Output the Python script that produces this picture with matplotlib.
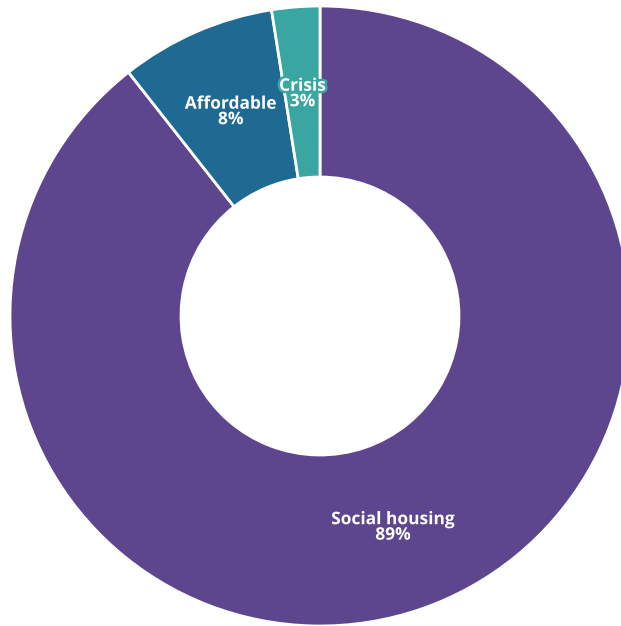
import numpy as np
import matplotlib
matplotlib.use("Agg")
import matplotlib.pyplot as plt
import matplotlib.patheffects as pe

### data ###
categories = ["Social housing", "Affordable", "Crisis"]
shares = [89.4, 8.1, 2.5]
pct_labels = ["89%", "8%", "3%"]
colours = ["#5e468f", "#1f6a93", "#3aa6a2"]

### layout (pixels) ###
W, H = 621, 626
cx, cy = 320, H - 316
outer_r = 310
inner_r = 139

fig = plt.figure(figsize=(W / 100, H / 100), dpi=100)
ax = fig.add_axes([0, 0, 1, 1])

wedges, _ = ax.pie(shares, colors=colours, startangle=90, counterclock=False,
                   radius=outer_r, center=(cx, cy),
                   wedgeprops=dict(width=outer_r - inner_r, edgecolor="white", linewidth=2))

# pie() resets the limits, so put the pixel frame back afterwards
ax.set_xlim(0, W)
ax.set_ylim(0, H)
ax.set_aspect("equal")
ax.axis("off")

for w, name, pct, col in zip(wedges, categories, pct_labels, colours):
    mid = np.deg2rad((w.theta1 + w.theta2) / 2)
    r = 0.72 * outer_r
    ax.text(cx + r * np.cos(mid), cy + r * np.sin(mid), f"{name}\n{pct}",
            ha="center", va="center", color="white", fontsize=12.5,
            fontweight="bold", family=["Open Sans", "DejaVu Sans"], linespacing=0.82,
            path_effects=[pe.withStroke(linewidth=3.5, foreground=col)])

fig.savefig("out.png", dpi=100)
